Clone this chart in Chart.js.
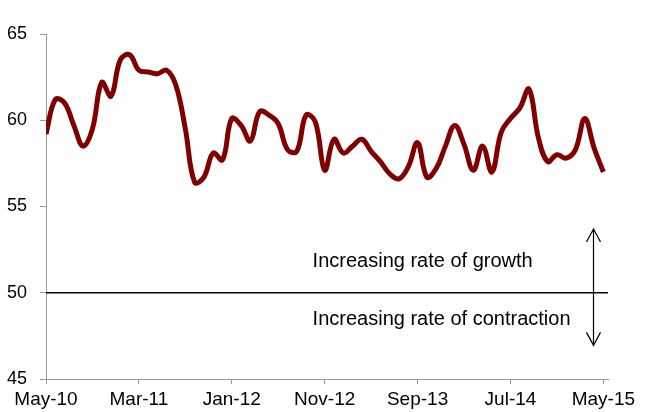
<!DOCTYPE html>
<html>
<head>
<meta charset="utf-8">
<script src="https://cdn.jsdelivr.net/npm/chart.js@4"></script>
<style>
  html, body { margin: 0; padding: 0; background: #fff; }
  #wrap { width: 645px; height: 412px; position: relative; }
</style>
</head>
<body>
<div id="wrap"><canvas id="c" width="645" height="412"></canvas></div>
<script>
// Monthly index, May-10 .. May-15 (61 months)
const monthIndex = [0,1,2,3,4,5,6,7,8,9,10,11,12,13,14,15,16,17,18,19,20,21,22,23,24,25,26,27,28,29,30,31,32,33,34,35,36,37,38,39,40,41,42,43,44,45,46,47,48,49,50,51,52,53,54,55,56,57,58,59,60];
const indexValues = [
  59.2, 61.2, 61.0, 59.7, 58.5, 59.5, 62.2, 61.4, 63.5, 63.8,
  62.9, 62.8, 62.7, 62.9, 62.0, 59.5, 56.4, 56.7, 58.1, 57.7,
  60.1, 59.7, 58.8, 60.5, 60.3, 59.8, 58.3, 58.2, 60.3, 59.9,
  57.1, 58.9, 58.1, 58.5, 58.9, 58.2, 57.6, 56.9, 56.6, 57.3,
  58.7, 56.7, 57.2, 58.5, 59.7, 58.6, 57.1, 58.5, 57.0, 59.3,
  60.1, 60.7, 61.8, 59.0, 57.6, 58.0, 57.8, 58.3, 60.1, 58.4,
  57.0
];
const tickPositions = [0, 10, 20, 30, 40, 50, 60];
const tickLabels = ['May-10', 'Mar-11', 'Jan-12', 'Nov-12', 'Sep-13', 'Jul-14', 'May-15'];
const yTicks = [45, 50, 55, 60, 65];
const thresholdValue = 50;
const growthText = 'Increasing rate of growth';
const contractionText = 'Increasing rate of contraction';

const FONT = '"Liberation Sans", Arial, sans-serif';
const AXIS_GRAY = '#9a9a9a';

// annotation placement in data units
const annot = {
  textX: 28.7, growthY: 51.8, contractionY: 48.45,
  arrowX: 58.85, arrowTop: 53.7, arrowBottom: 46.95
};

const annotationPlugin = {
  id: 'annot',
  afterDatasetsDraw(chart) {
    const ctx = chart.ctx, xs = chart.scales.x, ys = chart.scales.y;
    ctx.save();
    ctx.fillStyle = '#000';
    ctx.font = '20px ' + FONT;
    ctx.textAlign = 'left';
    ctx.textBaseline = 'middle';
    const tx = xs.getPixelForValue(annot.textX);
    ctx.fillText(growthText, tx, ys.getPixelForValue(annot.growthY));
    ctx.fillText(contractionText, tx, ys.getPixelForValue(annot.contractionY));
    // double arrow
    const ax = Math.round(xs.getPixelForValue(annot.arrowX)) + 0.5;
    const at = ys.getPixelForValue(annot.arrowTop);
    const ab = ys.getPixelForValue(annot.arrowBottom);
    ctx.strokeStyle = '#000';
    ctx.lineWidth = 1.2;
    ctx.beginPath();
    ctx.moveTo(ax, at); ctx.lineTo(ax, ab);
    ctx.moveTo(ax - 7, at + 13); ctx.lineTo(ax, at); ctx.lineTo(ax + 7, at + 13);
    ctx.moveTo(ax - 7, ab - 13); ctx.lineTo(ax, ab); ctx.lineTo(ax + 7, ab - 13);
    ctx.stroke();
    ctx.restore();
  }
};

new Chart(document.getElementById('c'), {
  type: 'line',
  data: {
    datasets: [
      {
        data: monthIndex.map((m, i) => ({ x: m, y: indexValues[i] })),
        borderColor: '#800000',
        borderWidth: 5,
        pointRadius: 0,
        tension: 0.4,
        fill: false,
        order: 1
      },
      {
        data: [{ x: 0, y: thresholdValue }, { x: 60.5, y: thresholdValue }],
        borderColor: '#000',
        borderWidth: 1.5,
        pointRadius: 0,
        tension: 0,
        fill: false,
        order: 2
      }
    ]
  },
  options: {
    responsive: false,
    animation: false,
    events: [],
    layout: { padding: { left: 0, right: 37, top: 34, bottom: 0 } },
    plugins: { legend: { display: false }, tooltip: { enabled: false } },
    scales: {
      x: {
        type: 'linear',
        min: 0,
        max: 60.5,
        afterBuildTicks: s => { s.ticks = tickPositions.map(v => ({ value: v })); },
        afterFit: s => { s.height = 33; },
        grid: { drawOnChartArea: false, drawTicks: true, tickLength: 5, color: AXIS_GRAY, lineWidth: 1 },
        border: { display: true, color: AXIS_GRAY, width: 1 },
        ticks: {
          padding: 4,
          maxRotation: 0,
          autoSkip: false,
          color: '#000',
          font: { family: FONT, size: 19 },
          callback: v => { const k = tickPositions.indexOf(v); return k >= 0 ? tickLabels[k] : ''; }
        }
      },
      y: {
        min: 45,
        max: 65,
        afterBuildTicks: s => { s.ticks = yTicks.map(v => ({ value: v })); },
        afterFit: s => { s.width = 46; },
        grid: { drawOnChartArea: false, drawTicks: true, tickLength: 6, color: AXIS_GRAY, lineWidth: 1 },
        border: { display: true, color: AXIS_GRAY, width: 1 },
        ticks: {
          padding: 13,
          color: '#000',
          font: { family: FONT, size: 18 }
        }
      }
    }
  },
  plugins: [annotationPlugin]
});
</script>
</body>
</html>
